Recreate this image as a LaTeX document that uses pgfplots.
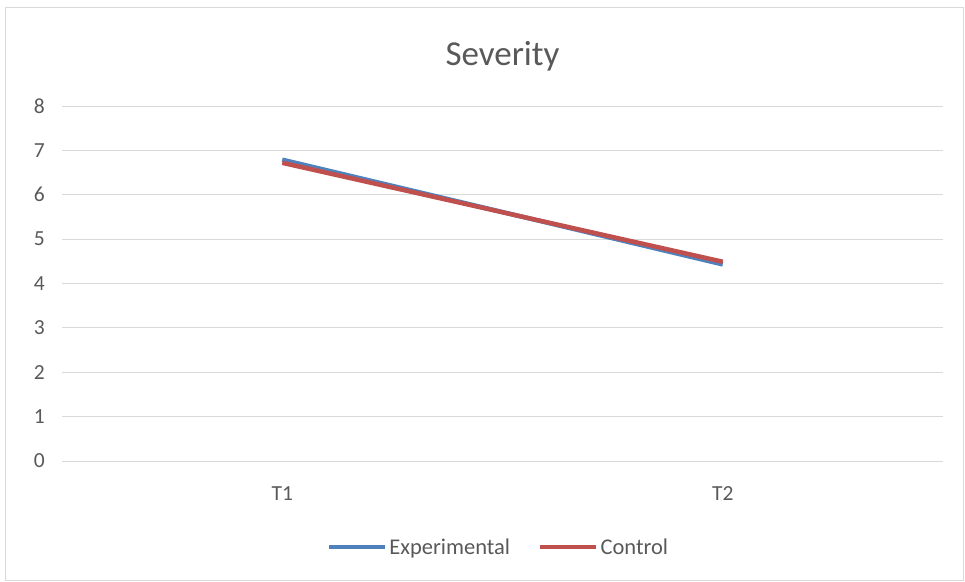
\documentclass[border=0pt]{standalone}
\usepackage{pgfplots}
\pgfplotsset{compat=1.18}
\usepackage{fontspec}
\setmainfont{Carlito}
\definecolor{expblue}{HTML}{4F81BD}
\definecolor{ctrlred}{HTML}{C0504D}
\definecolor{txtgray}{HTML}{595959}
\definecolor{gridgray}{HTML}{D9D9D9}
\begin{document}
\begin{tikzpicture}[x=1pt,y=1pt]
\useasboundingbox (-62,-120) rectangle (903,461);
\draw[gridgray, line width=1pt] (-56,-119) rectangle (901,453);
\begin{axis}[
  at={(0,0)}, anchor=south west,
  scale only axis, width=881pt, height=355pt,
  xmin=-0.5, xmax=1.5, ymin=0, ymax=8,
  xtick={0,1}, xticklabels={T1,T2},
  ytick={0,1,...,8},
  axis line style={draw=none},
  axis x line*=bottom, axis y line*=left,
  x axis line style={draw=gridgray, line width=1pt},
  ymajorgrids, grid style={gridgray, line width=1pt},
  major tick length=0pt,
  tick label style={font=\fontsize{21.5}{25}\selectfont, text=txtgray, inner sep=0pt},
  /pgf/number format/assume math mode=true,
  yticklabel style={anchor=east, xshift=-17pt},
  xticklabel style={anchor=base, yshift=-39pt},
  title={Severity},
  title style={font=\fontsize{35}{40}\selectfont, text=txtgray, at={(0.5,1)}, anchor=base, yshift=35pt, inner sep=0pt},
  legend style={at={(0.5,0)}, anchor=center, yshift=-86pt, xshift=-4pt, draw=none, fill=none,
    font=\fontsize{22.5}{26}\selectfont, text=txtgray, legend columns=2,
    nodes={inner xsep=2pt},
    /tikz/every even column/.append style={column sep=26pt}},
  legend image code/.code={\draw[#1, line width=4.5pt] (0pt,0pt) -- (56pt,0pt);},
  clip=false,
]
\addplot[expblue, line width=4.5pt] coordinates {(0,6.79) (1,4.43)};
\addlegendentry{Experimental}
\addplot[ctrlred, line width=4.5pt] coordinates {(0,6.72) (1,4.49)};
\addlegendentry{Control}
\end{axis}
\end{tikzpicture}
\end{document}
